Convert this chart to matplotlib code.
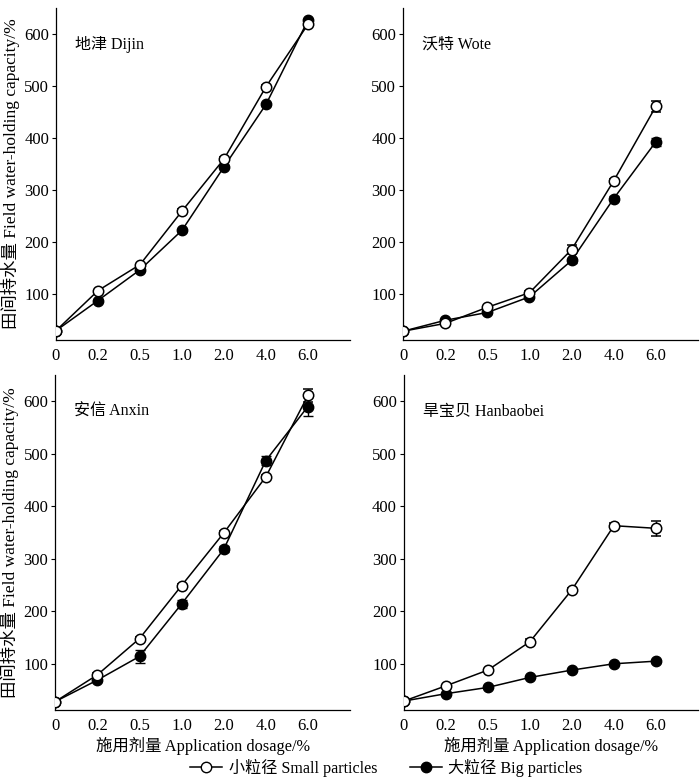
import matplotlib
matplotlib.use("Agg")
import matplotlib.pyplot as plt
from matplotlib.lines import Line2D

plt.rcParams["font.family"] = ["Liberation Serif", "Noto Sans CJK SC"]
plt.rcParams["font.size"] = 11

dosage_labels = ["0", "0.2", "0.5", "1.0", "2.0", "4.0", "6.0"]

panel_names = ["地津 Dijin", "沃特 Wote", "安信 Anxin", "旱宝贝 Hanbaobei"]

# small particles (open circles)
small_dijin = [30, 107, 157, 260, 360, 499, 619]
small_wote = [29, 44, 75, 103, 186, 318, 461]
small_anxin = [28, 79, 148, 249, 349, 456, 611]
small_hanbaobei = [29, 58, 88, 142, 241, 363, 358]

small_err_dijin = [0, 2, 2, 3, 3, 3, 3]
small_err_wote = [0, 2, 3, 3, 8, 4, 11]
small_err_anxin = [0, 3, 3, 3, 3, 3, 12]
small_err_hanbaobei = [0, 2, 2, 5, 3, 5, 14]

# big particles (filled circles)
big_dijin = [30, 88, 147, 223, 345, 465, 627]
big_wote = [29, 50, 65, 95, 165, 284, 393]
big_anxin = [28, 69, 114, 214, 318, 487, 590]
big_hanbaobei = [29, 43, 55, 74, 88, 100, 105]

big_err_dijin = [0, 2, 2, 3, 3, 3, 3]
big_err_wote = [0, 2, 3, 3, 4, 5, 8]
big_err_anxin = [0, 3, 12, 8, 6, 8, 18]
big_err_hanbaobei = [0, 2, 2, 2, 2, 2, 3]

small_all = [small_dijin, small_wote, small_anxin, small_hanbaobei]
small_err_all = [small_err_dijin, small_err_wote, small_err_anxin, small_err_hanbaobei]
big_all = [big_dijin, big_wote, big_anxin, big_hanbaobei]
big_err_all = [big_err_dijin, big_err_wote, big_err_anxin, big_err_hanbaobei]

fig = plt.figure(figsize=(7.0, 7.79), dpi=100)

# axes rectangles in figure fraction
rects = [
    [0.080, 0.5635, 0.420, 0.426],
    [0.576, 0.5635, 0.421, 0.426],
    [0.079, 0.0886, 0.421, 0.430],
    [0.577, 0.0886, 0.420, 0.430],
]

x = list(range(len(dosage_labels)))

for i in range(4):
    ax = fig.add_axes(rects[i])
    ax.errorbar(x, big_all[i], yerr=big_err_all[i], color="black", lw=1.1,
                marker="o", ms=7.5, mfc="black", mec="black", capsize=3.5,
                elinewidth=1.0, capthick=1.0, zorder=2)
    ax.errorbar(x, small_all[i], yerr=small_err_all[i], color="black", lw=1.1,
                marker="o", ms=7.5, mfc="white", mec="black", mew=1.1, capsize=3.5,
                elinewidth=1.0, capthick=1.0, zorder=3)
    ax.set_xlim(0, 7)
    ax.set_ylim(12, 650)
    ax.set_yticks([100, 200, 300, 400, 500, 600])
    ax.set_xticks(x)
    ax.set_xticklabels(dosage_labels)
    ax.tick_params(axis="x", length=0, pad=6, labelsize=12)
    ax.tick_params(axis="y", direction="out", length=3, width=0.8, pad=2, labelsize=12)
    ax.spines["top"].set_visible(False)
    ax.spines["right"].set_visible(False)
    ax.text(0.065, 0.89, panel_names[i], transform=ax.transAxes, fontsize=11.5,
            ha="left", va="center")
    for s in ["left", "bottom"]:
        ax.spines[s].set_linewidth(0.9)
    if i % 2 == 0:
        ax.set_ylabel("田间持水量 Field water-holding capacity/%", fontsize=12.5, labelpad=3)
    if i >= 2:
        ax.set_xlabel("施用剂量 Application dosage/%", fontsize=11.8, labelpad=2)

handles = [
    Line2D([], [], color="black", lw=1.1, marker="o", ms=7.5, mfc="white", mec="black"),
    Line2D([], [], color="black", lw=1.1, marker="o", ms=7.5, mfc="black", mec="black"),
]
fig.legend(handles, ["小粒径 Small particles", "大粒径 Big particles"],
           loc="center", bbox_to_anchor=(0.552, 0.014), ncol=2, frameon=False,
           fontsize=11.6, handlelength=2.0, columnspacing=2.0, handletextpad=0.4)

fig.savefig("out.png", dpi=100)
